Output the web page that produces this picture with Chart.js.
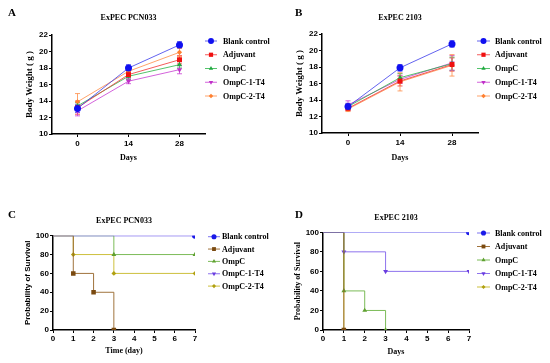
<!DOCTYPE html>
<html><head><meta charset="utf-8">
<script src="https://cdn.jsdelivr.net/npm/chart.js@4.4.0/dist/chart.umd.min.js"></script>
<style>
body{margin:0;background:#fff;width:550px;height:363px;position:relative;overflow:hidden}
.p{position:absolute}
.lbl{position:absolute;font:bold 11px "Liberation Serif";color:#000;line-height:11px}
</style></head><body>
<div class="p" style="left:0;top:0"><canvas id="cA" width="275" height="180"></canvas></div>
<div class="p" style="left:275px;top:0"><canvas id="cB" width="275" height="180"></canvas></div>
<div class="p" style="left:0;top:180px"><canvas id="cC" width="275" height="183"></canvas></div>
<div class="p" style="left:275px;top:180px"><canvas id="cD" width="275" height="183"></canvas></div>
<div class="lbl" style="left:8px;top:7px">A</div>
<div class="lbl" style="left:295px;top:7px">B</div>
<div class="lbl" style="left:8px;top:209px">C</div>
<div class="lbl" style="left:295px;top:209px">D</div>
<script>
// ---------- data ----------
const seriesNames = ['Blank control','Adjuvant','OmpC','OmpC-1-T4','OmpC-2-T4'];
const weightDays = ['0','14','28'];
const weightTicks = [10,12,14,16,18,20,22];

// Panel A: ExPEC PCN033 body weight (mean, error)
const A_blank = [13.1, 18.0, 20.8];   const A_blank_err = [0.5, 0.4, 0.4];
const A_adj   = [13.2, 17.2, 19.0];   const A_adj_err   = [0.8, 0.4, 0.5];
const A_ompc  = [13.4, 17.0, 18.4];   const A_ompc_err  = [0.4, 0.4, 0.4];
const A_ompc1 = [12.8, 16.4, 17.8];   const A_ompc1_err = [0.6, 0.3, 0.5];
const A_ompc2 = [13.9, 17.6, 19.9];   const A_ompc2_err = [1.0, 0.5, 0.5];

// Panel B: ExPEC 2103 body weight (mean, error)
const B_blank = [13.2, 17.9, 20.8];   const B_blank_err = [0.4, 0.4, 0.4];
const B_adj   = [13.0, 16.3, 18.3];   const B_adj_err   = [0.3, 0.6, 0.8];
const B_ompc  = [13.2, 16.7, 18.4];   const B_ompc_err  = [0.3, 0.5, 0.8];
const B_ompc1 = [13.4, 16.5, 18.5];   const B_ompc1_err = [0.5, 0.5, 0.9];
const B_ompc2 = [12.9, 16.2, 18.2];   const B_ompc2_err = [0.3, 1.1, 1.3];

// Survival (days, percent)
const C_blank_x = [0,7];        const C_blank_y = [100,100];
const C_adj_x   = [0,1,2,3];    const C_adj_y   = [100,60,40,0];
const C_ompc_x  = [0,3,7];      const C_ompc_y  = [100,80,80];
const C_ompc1_x = [0,7];        const C_ompc1_y = [100,100];
const C_ompc2_x = [0,1,3,7];    const C_ompc2_y = [100,80,60,60];

const D_blank_x = [0,7];        const D_blank_y = [100,100];
const D_adj_x   = [0,1];        const D_adj_y   = [100,0];
const D_ompc_x  = [0,1,2,3];    const D_ompc_y  = [100,40,20,0];
const D_ompc1_x = [0,1,3,7];    const D_ompc1_y = [100,80,60,60];
const D_ompc2_x = [0,1];        const D_ompc2_y = [100,0];

const survTicksX = [0,1,2,3,4,5,6,7];
const survTicksY = [0,20,40,60,80,100];

// ---------- styles ----------
const SERIF = 'Liberation Serif', SANS = 'Liberation Sans';
const wMarker = ['#1010f0','#f01010','#20a840','#c030c8','#ff8030'];
const wLine   = ['rgba(60,60,235,0.8)','rgba(240,50,50,0.8)','rgba(40,180,70,0.8)','rgba(200,60,210,0.8)','rgba(255,140,70,0.8)'];
const sMarker = ['#1a1ae8','#7a4a10','#5fa030','#6a3ce0','#b0a010'];
const sLine   = ['rgba(110,100,240,0.9)','rgba(150,100,40,0.9)','rgba(110,180,70,0.9)','rgba(130,100,235,0.9)','rgba(200,185,40,0.9)'];
const pStyles = ['circle','rect','triangle','triangle','rectRot'];
const pRot    = [0,0,0,180,0];

const sideLegend = {
  id:'sideLegend',
  afterDraw(chart, args, o){
    const ctx = chart.ctx; ctx.save();
    chart.data.datasets.forEach((ds,i)=>{
      const y = o.y0 + i*o.step;
      ctx.strokeStyle = ds.borderColor; ctx.lineWidth = 1;
      ctx.beginPath(); ctx.moveTo(o.x0,y); ctx.lineTo(o.x0+o.len,y); ctx.stroke();
      ctx.fillStyle = ds.pointBackgroundColor; ctx.strokeStyle = ds.pointBackgroundColor;
      Chart.helpers.drawPoint(ctx,{pointStyle:ds.pointStyle,radius:ds.legRadius,rotation:ds.pointRotation||0,borderWidth:0},o.x0+o.len/2,y);
      ctx.fillStyle='#000'; ctx.font='bold 8px "'+SERIF+'"'; ctx.textBaseline='middle'; ctx.textAlign='left';
      ctx.fillText(ds.label, o.tx, y+0.5);
    });
    ctx.restore();
  }
};
const errBars = {
  id:'errBars',
  beforeDatasetsDraw(chart){
    const ys = chart.scales.y, ctx = chart.ctx;
    chart.data.datasets.forEach((ds,i)=>{
      if(!ds.errors) return;
      const meta = chart.getDatasetMeta(i);
      ctx.save(); ctx.strokeStyle = ds.borderColor; ctx.lineWidth = 1;
      meta.data.forEach((pt,j)=>{
        const v = ds.data[j], e = ds.errors[j];
        const yt = ys.getPixelForValue(v+e), yb = ys.getPixelForValue(v-e);
        ctx.beginPath();
        ctx.moveTo(pt.x,yt); ctx.lineTo(pt.x,yb);
        ctx.moveTo(pt.x-2.5,yt); ctx.lineTo(pt.x+2.5,yt);
        ctx.moveTo(pt.x-2.5,yb); ctx.lineTo(pt.x+2.5,yb);
        ctx.stroke();
      });
      ctx.restore();
    });
  }
};

function axisCommon(){
  return {
    grid:{display:true,drawOnChartArea:false,color:'#000',lineWidth:1,tickLength:3,offset:false},
    border:{display:true,color:'#000',width:1.5}
  };
}

function weightChart(id, title, means, errs, L){
  const radii = [3.5,3.5,3,3,2.6];
  const datasets = means.map((m,i)=>({
    label: seriesNames[i], data: m, errors: errs[i],
    borderColor: wLine[i], borderWidth: 1,
    pointBackgroundColor: wMarker[i], pointBorderColor: wMarker[i], pointBorderWidth: 0,
    pointStyle: pStyles[i], pointRotation: pRot[i], pointRadius: radii[i], legRadius: radii[i]*0.85,
    tension: 0
  }));
  return new Chart(document.getElementById(id), {
    type:'line',
    data:{labels: weightDays, datasets},
    options:{
      responsive:false, animation:false, events:[],
      layout:{padding:{left:0,right:275-L.right,top:0,bottom:0}},
      plugins:{
        legend:{display:false}, tooltip:{enabled:false},
        title:{display:true,text:title,fullSize:false,color:'#000',font:{family:SERIF,size:8,weight:'bold'},padding:{top:L.tTop,bottom:L.top-L.tTop-9.6}},
        sideLegend:L.leg
      },
      scales:{
        x:Object.assign(axisCommon(),{
          type:'category', offset:true,
          ticks:{color:'#000',font:{family:SANS,size:8,weight:'bold'},padding:2,maxRotation:0,autoSkip:false},
          title:{display:true,text:'Days',color:'#000',font:{family:SERIF,size:8,weight:'bold'},padding:{top:0,bottom:L.xtPad}},
          afterFit(s){ s.height = 180 - L.bottom; }
        }),
        y:Object.assign(axisCommon(),{
          min:10,max:22,
          afterBuildTicks(s){ s.ticks = weightTicks.map(v=>({value:v})); },
          ticks:{color:'#000',font:{family:SANS,size:8,weight:'bold'},padding:1},
          title:{display:true,text:'Body Weight ( g )',color:'#000',font:{family:SERIF,size:9,weight:'bold'},padding:{top:L.ytPad,bottom:0}},
          afterFit(s){ s.width = L.left; }
        })
      }
    },
    plugins:[errBars, sideLegend]
  });
}

function survChart(id, title, xs, ys, L){
  const radii = [3,3.2,2.8,2.8,2.4];
  const datasets = xs.map((xv,i)=>({
    label: seriesNames[i], data: xv.map((x,j)=>({x:x,y:ys[i][j]})),
    borderColor: sLine[i], borderWidth: 1, stepped:'before',
    pointBackgroundColor: sMarker[i], pointBorderColor: sMarker[i], pointBorderWidth: 0,
    pointStyle: pStyles[i], pointRotation: pRot[i],
    pointRadius: c => (c.raw && c.raw.x === 0) ? 0 : radii[i], legRadius: radii[i]*0.85
  }));
  return new Chart(document.getElementById(id), {
    type:'line',
    data:{datasets},
    options:{
      responsive:false, animation:false, events:[],
      layout:{padding:{left:0,right:275-L.right,top:0,bottom:0}},
      plugins:{
        legend:{display:false}, tooltip:{enabled:false},
        title:{display:true,text:title,fullSize:false,color:'#000',font:{family:SERIF,size:8,weight:'bold'},padding:{top:L.tTop,bottom:L.top-L.tTop-9.6}},
        sideLegend:L.leg
      },
      scales:{
        x:Object.assign(axisCommon(),{
          type:'linear', min:0, max:7,
          afterBuildTicks(s){ s.ticks = survTicksX.map(v=>({value:v})); },
          ticks:{color:'#000',font:{family:SANS,size:8,weight:'bold'},padding:1,maxRotation:0,autoSkip:false},
          title:{display:true,text:L.xTitle,color:'#000',font:{family:SERIF,size:8,weight:'bold'},padding:{top:0,bottom:L.xtPad}},
          afterFit(s){ s.height = 183 - L.bottom; }
        }),
        y:Object.assign(axisCommon(),{
          min:0,max:100,
          afterBuildTicks(s){ s.ticks = survTicksY.map(v=>({value:v})); },
          ticks:{color:'#000',font:{family:SANS,size:8,weight:'bold'},padding:1},
          title:{display:true,text:'Probability of Survival',color:'#000',font:{family:L.yFont,size:8,weight:'bold'},padding:{top:L.ytPad,bottom:0}},
          afterFit(s){ s.width = L.left; }
        })
      }
    },
    plugins:[sideLegend]
  });
}

weightChart('cA','ExPEC PCN033',
  [A_blank,A_adj,A_ompc,A_ompc1,A_ompc2],
  [A_blank_err,A_adj_err,A_ompc_err,A_ompc1_err,A_ompc2_err],
  {left:52,right:205,top:35,bottom:134,tTop:13.2,xtPad:17.2,ytPad:24.6,
   leg:{x0:205,len:12,tx:223,y0:41,step:13.75}});
weightChart('cB','ExPEC 2103',
  [B_blank,B_adj,B_ompc,B_ompc1,B_ompc2],
  [B_blank_err,B_adj_err,B_ompc_err,B_ompc1_err,B_ompc2_err],
  {left:47,right:203,top:34,bottom:133,tTop:13.2,xtPad:17.2,ytPad:19.1,
   leg:{x0:202,len:13,tx:220,y0:41,step:13.75}});
survChart('cC','ExPEC PCN033',
  [C_blank_x,C_adj_x,C_ompc_x,C_ompc1_x,C_ompc2_x],
  [C_blank_y,C_adj_y,C_ompc_y,C_ompc1_y,C_ompc2_y],
  {left:53,right:195,top:55.7,bottom:150,tTop:36.2,xtPad:7.2,ytPad:23.2,xTitle:'Time (day)',yFont:SANS,
   leg:{x0:208,len:12,tx:222,y0:56.7,step:12.35}});
survChart('cD','ExPEC 2103',
  [D_blank_x,D_adj_x,D_ompc_x,D_ompc1_x,D_ompc2_x],
  [D_blank_y,D_adj_y,D_ompc_y,D_ompc1_y,D_ompc2_y],
  {left:48,right:194,top:52.3,bottom:150,tTop:32.9,xtPad:6.2,ytPad:18.2,xTitle:'Days',yFont:SERIF,
   leg:{x0:202,len:13,tx:220,y0:53,step:13.5}});
</script>
</body></html>
